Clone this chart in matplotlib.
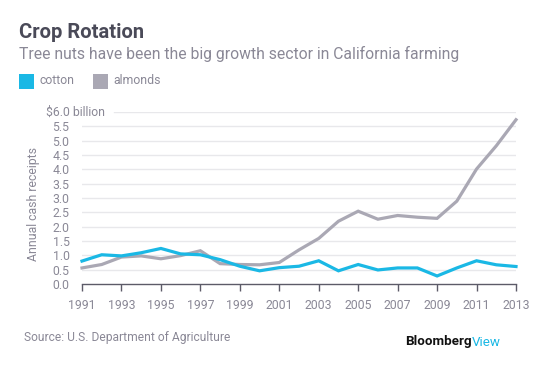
import matplotlib
matplotlib.use("Agg")
import matplotlib.pyplot as plt
from matplotlib.patches import Rectangle

years = list(range(1991, 2014))
cotton = [0.80, 1.02, 0.98, 1.09, 1.24, 1.05, 1.02, 0.85, 0.62, 0.46,
          0.57, 0.62, 0.81, 0.46, 0.68, 0.49, 0.56, 0.56, 0.28, 0.56,
          0.81, 0.67, 0.61]
almonds = [0.56, 0.68, 0.94, 0.98, 0.88, 0.99, 1.16, 0.71, 0.68, 0.67,
           0.75, 1.19, 1.59, 2.19, 2.54, 2.26, 2.39, 2.33, 2.29, 2.89,
           4.01, 4.82, 5.73]
ytick_vals = [0.0, 0.5, 1.0, 1.5, 2.0, 2.5, 3.0, 3.5, 4.0, 4.5, 5.0, 5.5]
xtick_years = list(range(1991, 2014, 2))

BLUE = "#1ab8e5"
GREY = "#aaa8b4"
TXT = "#8a8896"
DARK = "#4a4a58"
FONT = ["Roboto", "DejaVu Sans"]
plt.rcParams["font.family"] = FONT

W, H = 557, 374
fig = plt.figure(figsize=(W / 100, H / 100), dpi=100)

def fx(px):
    return px / W

def fy(py):
    return 1 - py / H

ax_l, ax_r, ax_t, ax_b = 82, 516, 112, 284
ax = fig.add_axes([fx(ax_l), fy(ax_b), fx(ax_r - ax_l), (ax_b - ax_t) / H])
ax.set_xlim(1991, 2013)
ax.set_ylim(0, 6.0)

for v in ytick_vals[1:]:
    ax.axhline(v, color="#e8e8eb", lw=1.0, zorder=0)
ax.plot([1991 + (114 - ax_l) / (ax_r - ax_l) * 22, 2013], [6.0, 6.0],
        color="#e8e8eb", lw=1.0, zorder=0)

ax.plot(years, almonds, color=GREY, lw=2.3, solid_joinstyle="miter", clip_on=False, zorder=3)
ax.plot(years, cotton, color=BLUE, lw=2.3, solid_joinstyle="miter", clip_on=False, zorder=4)

for s in ["top", "right", "left"]:
    ax.spines[s].set_visible(False)
ax.spines["bottom"].set_color("#5c5b68")
ax.spines["bottom"].set_linewidth(1.0)

TICK_FS = 8.8
ax.set_xticks(xtick_years)
ax.set_xticklabels([str(y) for y in xtick_years], color=TXT, fontsize=TICK_FS)
ax.tick_params(axis="x", length=5, width=1, color="#5c5b68", pad=6)
ax.set_yticks(ytick_vals)
ax.set_yticklabels([f"{v:.1f}" for v in ytick_vals], color=TXT, fontsize=TICK_FS)
ax.tick_params(axis="y", length=0, pad=9)

fig.text(fx(46), fy(112), "$6.0 billion", color=TXT, fontsize=TICK_FS, ha="left", va="center")
fig.text(fx(33), fy(204), "Annual cash receipts", color=TXT, fontsize=TICK_FS,
         rotation=90, ha="center", va="center")

fig.text(fx(19), fy(32), "Crop Rotation", color=DARK, fontsize=14.5, fontweight="bold",
         ha="left", va="center")
fig.text(fx(19), fy(54), "Tree nuts have been the big growth sector in California farming",
         color=TXT, fontsize=11.3, ha="left", va="center")

fig.patches.append(Rectangle((fx(19), fy(89)), fx(15), 15 / H, transform=fig.transFigure,
                             facecolor=BLUE, edgecolor="none"))
fig.text(fx(39), fy(81), "cotton", color=TXT, fontsize=8.8, ha="left", va="center")
fig.patches.append(Rectangle((fx(93), fy(89)), fx(15), 15 / H, transform=fig.transFigure,
                             facecolor=GREY, edgecolor="none"))
fig.text(fx(113), fy(81), "almonds", color=TXT, fontsize=8.8, ha="left", va="center")

fig.text(fx(24), fy(337), "Source: U.S. Department of Agriculture", color=TXT,
         fontsize=8.65, ha="left", va="center")
t1 = fig.text(fx(405), fy(342), "Bloomberg", color="#111111", fontsize=9.6,
              fontweight="bold", ha="left", va="center")
fig.canvas.draw()
bb = t1.get_window_extent()
fig.text(bb.x1 / W, fy(342), "View", color=BLUE, fontsize=9.6, ha="left", va="center")

fig.savefig("out.png", dpi=100, facecolor="white")
